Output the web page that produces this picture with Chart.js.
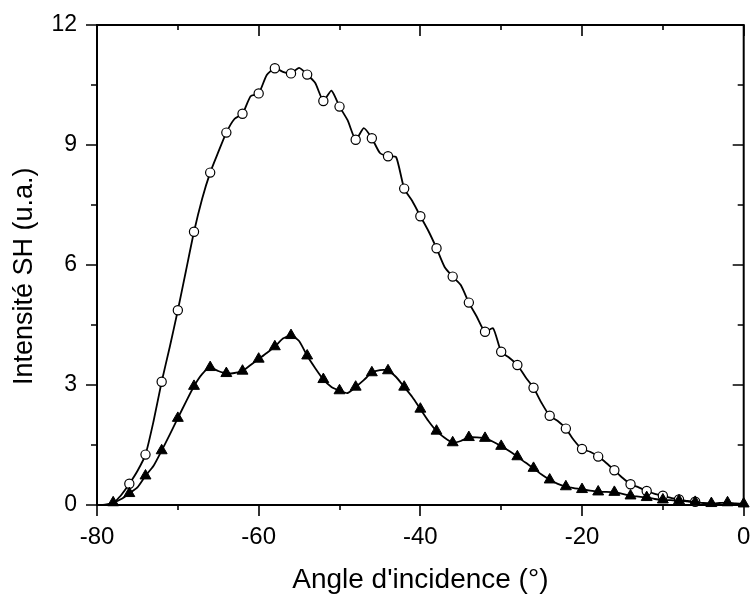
<!DOCTYPE html>
<html>
<head>
<meta charset="utf-8">
<script src="https://cdn.jsdelivr.net/npm/chart.js@4.4.0/dist/chart.umd.min.js"></script>
<style>
html, body { margin: 0; padding: 0; background: #fff; overflow: hidden; }
#wrap { width: 751px; height: 594px; position: relative; }
</style>
</head>
<body>
<div id="wrap"><canvas id="shChart"></canvas></div>
<script>
// angle of incidence (deg), one reading per degree
const angles = [
    -80, -79, -78, -77, -76, -75, -74, -73, -72, -71,
    -70, -69, -68, -67, -66, -65, -64, -63, -62, -61,
    -60, -59, -58, -57, -56, -55, -54, -53, -52, -51,
    -50, -49, -48, -47, -46, -45, -44, -43, -42, -41,
    -40, -39, -38, -37, -36, -35, -34, -33, -32, -31,
    -30, -29, -28, -27, -26, -25, -24, -23, -22, -21,
    -20, -19, -18, -17, -16, -15, -14, -13, -12, -11,
    -10, -9, -8, -7, -6, -5, -4, -3, -2, -1, 0
];

// open circles
const circleValues = [
    null, null, 0.03, 0.25, 0.53, 0.85, 1.26, 2.10, 3.08, 3.95,
    4.87, 5.85, 6.83, 7.65, 8.31, 8.82, 9.31, 9.65, 9.78, 10.22,
    10.29, 10.75, 10.92, 10.83, 10.79, 10.93, 10.76, 10.55, 10.10, 10.36,
    9.96, 9.62, 9.13, 9.42, 9.17, 8.80, 8.72, 8.70, 7.91, 7.60,
    7.22, 6.85, 6.42, 5.95, 5.71, 5.50, 5.06, 4.70, 4.33, 4.42,
    3.83, 3.68, 3.50, 3.20, 2.93, 2.55, 2.23, 2.10, 1.91, 1.62,
    1.40, 1.33, 1.21, 1.05, 0.87, 0.68, 0.52, 0.44, 0.35, 0.28,
    0.23, 0.18, 0.14, 0.10, 0.08, null, null, null, null, null, null
];

// filled triangles
const triangleValues = [
    0.00, 0.01, 0.06, 0.15, 0.29, 0.44, 0.73, 0.98, 1.36, 1.76,
    2.17, 2.58, 2.97, 3.27, 3.44, 3.35, 3.29, 3.30, 3.35, 3.50,
    3.65, 3.80, 3.96, 4.16, 4.24, 4.10, 3.73, 3.42, 3.14, 2.95,
    2.86, 2.80, 2.95, 3.12, 3.31, 3.37, 3.36, 3.20, 2.95, 2.70,
    2.40, 2.10, 1.85, 1.68, 1.56, 1.60, 1.69, 1.69, 1.67, 1.58,
    1.47, 1.35, 1.21, 1.06, 0.92, 0.76, 0.63, 0.53, 0.46, 0.42,
    0.39, 0.36, 0.33, 0.33, 0.32, 0.28, 0.23, 0.21, 0.19, 0.15,
    0.13, 0.12, 0.11, 0.09, 0.07, 0.05, 0.04, 0.05, 0.06, 0.04, 0.03
];

const xTickLabels = [-80, -60, -40, -20, 0];
const yTickLabels = [0, 3, 6, 9, 12];

const FONT = "'Liberation Sans', Arial, sans-serif";

function toPoints(values) {
    const pts = [];
    values.forEach((v, i) => {
        if (v !== null) pts.push({ x: angles[i], y: v });
    });
    return pts;
}

// a marker on every even angle, except the very first reading of the series
function markerRadius(size) {
    return function(context) {
        const p = context.raw;
        if (!p || context.dataIndex === 0) return 0;
        return Math.abs(p.x % 2) === 0 ? size : 0;
    };
}

function isMajor(value, list) {
    return list.some(v => Math.abs(v - value) < 1e-6);
}

// box round the plot with major/minor ticks on all four sides
const framePlugin = {
    id: 'frame',
    beforeDatasetsDraw(chart) {
        const { ctx, chartArea: a, scales: { x, y } } = chart;
        ctx.save();
        ctx.strokeStyle = '#000';
        ctx.lineWidth = 2;
        ctx.strokeRect(a.left, a.top, a.right - a.left, a.bottom - a.top);

        ctx.lineWidth = 1.6;
        ctx.beginPath();
        x.ticks.forEach(t => {
            const px = Math.round(x.getPixelForValue(t.value));
            const len = isMajor(t.value, xTickLabels) ? 11 : 5;
            ctx.moveTo(px, a.bottom);
            ctx.lineTo(px, a.bottom + len);
            ctx.moveTo(px, a.top);
            ctx.lineTo(px, a.top + len);
        });
        y.ticks.forEach(t => {
            const py = Math.round(y.getPixelForValue(t.value));
            const len = isMajor(t.value, yTickLabels) ? 11 : 6;
            ctx.moveTo(a.left - len, py);
            ctx.lineTo(a.left, py);
            ctx.moveTo(a.right - len, py);
            ctx.lineTo(a.right, py);
        });
        ctx.stroke();
        ctx.restore();
    }
};

const ctx = document.getElementById('shChart').getContext('2d');

new Chart(ctx, {
    type: 'line',
    data: {
        datasets: [
            {
                label: 'triangles',
                data: toPoints(triangleValues),
                borderColor: '#000',
                borderWidth: 1.8,
                backgroundColor: '#000',
                pointStyle: 'triangle',
                pointRadius: markerRadius(6.3),
                pointBackgroundColor: '#000',
                pointBorderColor: '#000',
                pointBorderWidth: 1,
                tension: 0.2,
                clip: false
            },
            {
                label: 'cercles',
                data: toPoints(circleValues),
                borderColor: '#000',
                borderWidth: 1.8,
                backgroundColor: '#fff',
                pointStyle: 'circle',
                pointRadius: markerRadius(4.6),
                pointBackgroundColor: '#fff',
                pointBorderColor: '#000',
                pointBorderWidth: 1.2,
                tension: 0.2,
                clip: false
            }
        ]
    },
    options: {
        responsive: true,
        maintainAspectRatio: false,
        animation: false,
        events: [],
        layout: { padding: { top: 25, right: 6, left: 0, bottom: 0 } },
        plugins: {
            legend: { display: false },
            tooltip: { enabled: false }
        },
        scales: {
            x: {
                type: 'linear',
                min: -80,
                max: 0,
                grid: { display: false, drawTicks: false },
                border: { display: false },
                ticks: {
                    stepSize: 10,
                    autoSkip: false,
                    maxRotation: 0,
                    padding: 18,
                    color: '#000',
                    font: { family: FONT, size: 24 },
                    callback: function(value) {
                        return isMajor(value, xTickLabels) ? String(value) : '';
                    }
                },
                title: {
                    display: true,
                    text: "Angle d'incidence (°)",
                    color: '#000',
                    font: { family: FONT, size: 28, lineHeight: 1 },
                    padding: { top: 0, bottom: 0 }
                },
                afterFit: function(scale) {
                    scale.height = 89;
                    scale.paddingRight = 0;
                }
            },
            y: {
                min: 0,
                max: 12,
                grid: { display: false, drawTicks: false },
                border: { display: false },
                ticks: {
                    stepSize: 1.5,
                    autoSkip: false,
                    padding: 20,
                    color: '#000',
                    font: { family: FONT, size: 23 },
                    callback: function(value) {
                        return isMajor(value, yTickLabels) ? String(value) : '';
                    }
                },
                title: {
                    display: true,
                    // trailing spaces push the visible text a little lower, as in the original
                    text: 'Intensité SH (u.a.)\u00a0\u00a0\u00a0',
                    color: '#000',
                    font: { family: FONT, size: 27, lineHeight: 1 },
                    padding: { top: 11, bottom: 0 }
                },
                afterFit: function(scale) {
                    scale.width = 97;
                    scale.paddingTop = 0;
                    scale.paddingBottom = 0;
                }
            }
        }
    },
    plugins: [framePlugin]
});
</script>
</body>
</html>
